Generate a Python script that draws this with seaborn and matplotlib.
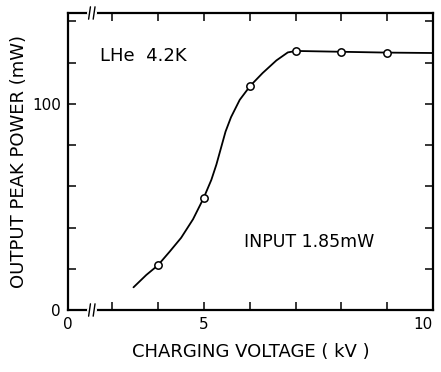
import matplotlib
matplotlib.use("Agg")
import matplotlib.pyplot as plt
import seaborn as sns
import pandas as pd

# Measured data points (kV, mW)
points_kv = [4.0, 5.0, 6.0, 7.0, 8.0, 9.0]
points_mw = [21.6, 54.2, 108.7, 125.6, 125.2, 124.8]

# Hand-drawn fitted curve
curve_kv = [3.46, 3.74, 3.99, 4.25, 4.50, 4.76, 4.99, 5.16, 5.27, 5.38, 5.47, 5.59,
            5.78, 6.01, 6.28, 6.58, 6.83, 7.01, 8.0, 9.0, 10.0]
curve_mw = [11.0, 17.0, 21.6, 28.3, 35.0, 44.0, 54.2, 63.1, 70.5, 79.3, 86.5, 93.5,
            101.9, 108.7, 114.9, 121.0, 124.9, 125.6, 125.2, 124.8, 124.6]

x_tick_pos = [2.03, 3, 4, 5, 6, 7, 8, 9, 10]
x_tick_labels = ["0", "", "", "5", "", "", "", "", "10"]
y_tick_pos = [0, 20, 40, 60, 80, 100, 120, 140]
y_tick_labels = ["0", "", "", "", "", "100", "", ""]

sns.set_theme(style="ticks")
plt.rcParams["font.family"] = ["DejaVu Sans"]
plt.rcParams["text.color"] = "black"

fig = plt.figure(figsize=(4.41, 3.72), dpi=100)
ax = fig.add_axes([68 / 441, 1 - 310 / 372, (433 - 68) / 441, (310 - 13) / 372])

curve = pd.DataFrame({"kv": curve_kv, "mw": curve_mw})
pts = pd.DataFrame({"kv": points_kv, "mw": points_mw})
sns.lineplot(data=curve, x="kv", y="mw", ax=ax, color="black", linewidth=1.3, sort=False,
             solid_joinstyle="round")
sns.scatterplot(data=pts, x="kv", y="mw", ax=ax, s=28, facecolor="white",
                edgecolor="black", linewidth=1.1, zorder=3)

ax.set_xlim(2.03, 10)
ax.set_ylim(0, 144)
ax.set_xticks(x_tick_pos)
ax.set_xticklabels(x_tick_labels)
ax.set_yticks(y_tick_pos)
ax.set_yticklabels(y_tick_labels)
ax.tick_params(direction="in", length=6, width=1.1, top=True, right=True,
               labelsize=11, colors="black", labelcolor="black", pad=5)
ax.get_xticklabels()[-1].set_horizontalalignment("right")
for s in ax.spines.values():
    s.set_visible(True)
    s.set_linewidth(1.6)
    s.set_color("black")

ax.set_xlabel("CHARGING VOLTAGE ( kV )", fontsize=13, labelpad=8, color="black")
ax.set_ylabel("OUTPUT PEAK POWER (mW)", fontsize=13, labelpad=3, color="black")

ax.text(2.72, 123, "LHe  4.2K", fontsize=13, va="center", ha="left", color="black")
ax.text(5.88, 33, "INPUT 1.85mW", fontsize=12.5, va="center", ha="left", color="black")

# axis break marks on bottom and top spines
for yv in (0, 144):
    ax.plot([2.48, 2.62], [yv, yv], color="white", linewidth=3, clip_on=False, zorder=5)
    for xb in (2.48, 2.58):
        ax.plot([xb, xb + 0.04], [yv - 3, yv + 3], color="black", linewidth=1.0,
                clip_on=False, zorder=6)

fig.savefig("out.png", dpi=100)
